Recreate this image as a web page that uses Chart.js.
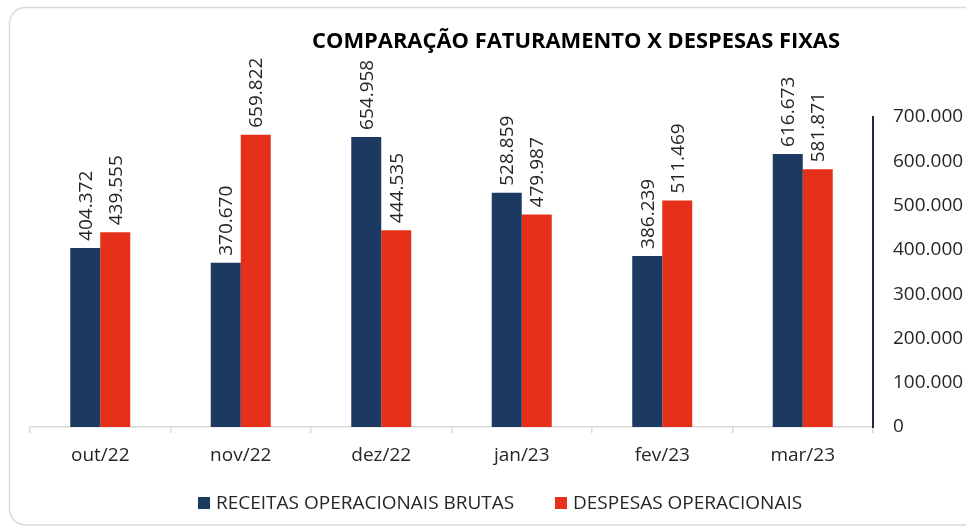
<!DOCTYPE html>
<html><head><meta charset="utf-8">
<script src="https://cdn.jsdelivr.net/npm/chart.js@4"></script>
<style>
html,body{margin:0;padding:0;background:#fff;overflow:hidden}
#wrap{position:relative;width:966px;height:527px}
canvas{display:block}
</style>
</head><body>
<div id="wrap"><canvas id="c" width="966" height="527"></canvas></div>
<script>
const categories = ['out/22','nov/22','dez/22','jan/23','fev/23','mar/23'];
const receitas = [404372, 370670, 654958, 528859, 386239, 616673];
const despesas = [439555, 659822, 444535, 479987, 511469, 581871];
const yTicks = [0, 100000, 200000, 300000, 400000, 500000, 600000, 700000];
const seriesNames = ['RECEITAS OPERACIONAIS BRUTAS', 'DESPESAS OPERACIONAIS'];
const titleText = 'COMPARAÇÃO FATURAMENTO X DESPESAS FIXAS';

const BLUE = '#1c3961', RED = '#e7301a', TXT = '#262626';
const FONT = '"Open Sans", sans-serif';

function fmt(v){ return String(Math.round(v)).replace(/\B(?=(\d{3})+(?!\d))/g,'.'); }

const framePlugin = {
  id:'frame',
  beforeDraw(chart){
    const ctx = chart.ctx;
    ctx.save();
    ctx.fillStyle='#fff'; ctx.fillRect(0,0,chart.width,chart.height);
    ctx.strokeStyle='#d9d9d9'; ctx.lineWidth=1.5;
    ctx.beginPath();
    ctx.roundRect(9.5, 7.5, 990, 517.5, 16);
    ctx.stroke();
    ctx.restore();
  }
};

const labelsPlugin = {
  id:'barLabels',
  afterDatasetsDraw(chart){
    const ctx = chart.ctx;
    ctx.save();
    ctx.font = '19px ' + FONT;
    ctx.fillStyle = TXT;
    ctx.textAlign = 'left';
    ctx.textBaseline = 'middle';
    chart.data.datasets.forEach((ds, di) => {
      chart.getDatasetMeta(di).data.forEach((bar, i) => {
        ctx.save();
        ctx.translate(bar.x + 1, bar.y - 7);
        ctx.rotate(-Math.PI/2);
        ctx.fillText(fmt(ds.data[i]), 0, 0);
        ctx.restore();
      });
    });
    ctx.restore();
  }
};

const textPlugin = {
  id:'texts',
  afterDraw(chart){
    const ctx = chart.ctx;
    ctx.save();
    // title
    ctx.font = 'bold 22px ' + FONT;
    ctx.fillStyle = '#000';
    ctx.textBaseline = 'alphabetic';
    const tw = ctx.measureText(titleText).width;
    const sc = 528 / tw;
    ctx.save();
    ctx.translate(576, 48);
    ctx.scale(sc, 1);
    ctx.textAlign = 'center';
    ctx.fillText(titleText, 0, 0);
    ctx.restore();
    // legend
    ctx.font = '19px ' + FONT;
    ctx.textAlign = 'left';
    const items = [{x:198, c:BLUE, t:seriesNames[0]}, {x:555, c:RED, t:seriesNames[1]}];
    items.forEach(it => {
      ctx.fillStyle = it.c;
      ctx.fillRect(it.x, 497, 12, 12);
      ctx.fillStyle = TXT;
      ctx.fillText(it.t, it.x + 18, 509);
    });
    ctx.restore();
  }
};

new Chart(document.getElementById('c'), {
  type:'bar',
  data:{
    labels: categories,
    datasets:[
      {label: seriesNames[0], data: receitas, backgroundColor: BLUE, borderWidth:0, barPercentage:1, categoryPercentage:0.427},
      {label: seriesNames[1], data: despesas, backgroundColor: RED, borderWidth:0, barPercentage:1, categoryPercentage:0.427}
    ]
  },
  options:{
    responsive:false,
    animation:false,
    devicePixelRatio:1,
    layout:{padding:{left:30, top:117, right:0, bottom:0}},
    plugins:{legend:{display:false}, title:{display:false}, tooltip:{enabled:false}},
    scales:{
      x:{
        grid:{drawOnChartArea:false, color:'#d9d9d9', tickLength:6, offset:true, lineWidth:1.5},
        border:{color:'#d9d9d9', width:1.5},
        ticks:{font:{family:FONT, size:19}, color:TXT, padding:11, maxRotation:0},
        afterFit(s){ s.height = 100; }
      },
      y:{
        position:'right',
        min:0, max:700000,
        afterBuildTicks(s){ s.ticks = yTicks.map(v => ({value:v})); },
        grid:{display:false, drawTicks:false},
        border:{display:true, color:'#1f2a44', width:2},
        ticks:{font:{family:FONT, size:19}, color:TXT, padding:20, callback:(v)=>fmt(v)},
        afterFit(s){ s.width = 93; }
      }
    }
  },
  plugins:[framePlugin, labelsPlugin, textPlugin]
});
</script>
</body></html>
